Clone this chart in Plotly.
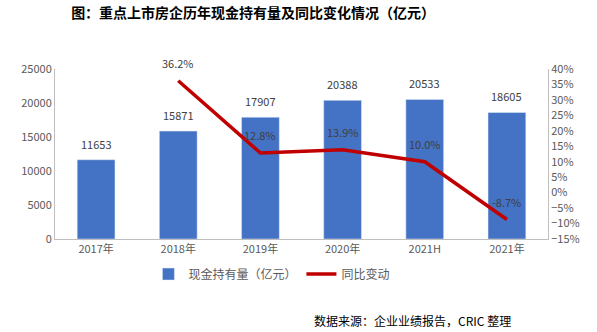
import plotly.graph_objects as go

categories = ["2017年", "2018年", "2019年", "2020年", "2021H", "2021年"]
cash = [11653, 15871, 17907, 20388, 20533, 18605]
yoy = [None, 36.2, 12.8, 13.9, 10.0, -8.7]
yoy_labels = [None, "36.2%", "12.8%", "13.9%", "10.0%", "-8.7%"]

FONT = "Noto Sans CJK SC"
TXT = "#404040"

fig = go.Figure()
fig.add_trace(go.Bar(
    x=categories, y=cash, name="现金持有量（亿元）",
    marker_color="#4472C4", width=0.46,
))
fig.add_trace(go.Scatter(
    x=categories, y=yoy, name="同比变动", yaxis="y2",
    mode="lines", line=dict(color="#C00000", width=3.5),
    connectgaps=False,
))

annotations = []
for c, v in zip(categories, cash):
    annotations.append(dict(x=c, y=v, xref="x", yref="y", text=str(v),
                            showarrow=False, yshift=16, yanchor="middle",
                            font=dict(size=11, color=TXT, family=FONT)))
for c, v, t in zip(categories, yoy, yoy_labels):
    if v is None:
        continue
    annotations.append(dict(x=c, y=v, xref="x", yref="y2", text=t,
                            showarrow=False, yshift=18, yanchor="middle",
                            font=dict(size=11, color=TXT, family=FONT)))
annotations.append(dict(x=0.929, y=-0.482, xref="paper", yref="paper",
                        text="数据来源：企业业绩报告，CRIC 整理", showarrow=False,
                        xanchor="right", yanchor="middle",
                        font=dict(size=12, color="#000000", family=FONT)))

fig.update_layout(
    width=597, height=332,
    margin=dict(l=55, r=49, t=69, b=93),
    paper_bgcolor="white", plot_bgcolor="white",
    font=dict(family=FONT, size=11, color=TXT),
    title=dict(text="<b>图：重点上市房企历年现金持有量及同比变化情况（亿元）</b>",
               x=0.424, xanchor="center", y=0.96, yanchor="middle",
               font=dict(size=14, color="#000000", family=FONT)),
    bargap=0.54,
    xaxis=dict(showline=True, linecolor="#BFBFBF", linewidth=1, ticks="",
               tickfont=dict(size=11, color="#595959")),
    yaxis=dict(range=[0, 25000], dtick=5000, tickformat="d", showgrid=False,
               showline=True, linecolor="#BFBFBF", zeroline=False,
               tickfont=dict(size=11, color="#595959")),
    yaxis2=dict(range=[-15, 40], dtick=5, overlaying="y", side="right",
                showgrid=False, showline=True, linecolor="#BFBFBF",
                zeroline=False, ticksuffix="%",
                tickfont=dict(size=11, color="#595959")),
    legend=dict(orientation="h", x=0.44, xanchor="center", y=-0.206,
                yanchor="middle", font=dict(size=12, color="#595959")),
    annotations=annotations,
    showlegend=True,
)

fig.write_html("out.html")
